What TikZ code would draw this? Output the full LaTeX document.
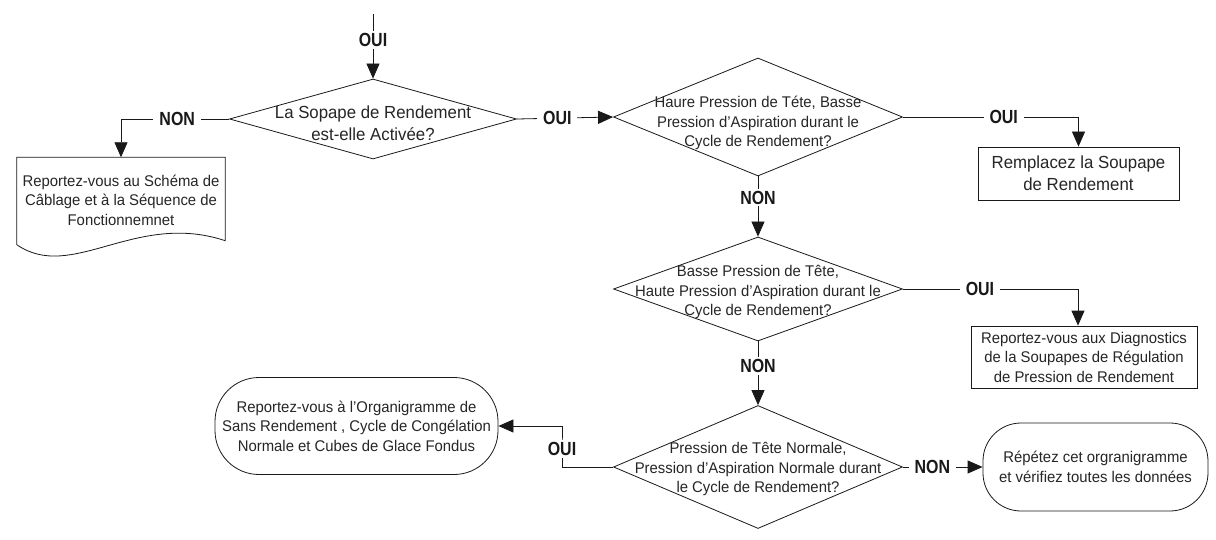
\documentclass[tikz,border=0pt]{standalone}
\usepackage{fontspec}
\setmainfont{Liberation Sans}[FakeStretch=0.96]
\newfontfamily\lblfont{Liberation Sans}[FakeStretch=0.84]
\usetikzlibrary{arrows.meta,shapes.geometric,calc}
\begin{document}
\begin{tikzpicture}[x=1pt,y=-1pt,
  shp/.style={draw=black!90, line width=0.8pt},
  dia/.style={shp, shape=diamond, inner sep=0pt},
  txt/.style={align=center, inner sep=0pt, text=black!85, font=\fontsize{15.5}{19.5}\selectfont},
  bigtxt/.style={font=\fontsize{17.5}{22}\selectfont},
  boxnode/.style={shp, txt, rectangle},
  term/.style={shp, txt, rectangle},
  arr/.style={draw=black!90, line width=0.8pt, -{Triangle[length=15pt,width=13pt]}},
  lbl/.style={fill=white, inner xsep=6pt, inner ysep=2pt, text=black!90, font=\lblfont\bfseries\fontsize{19}{22}\selectfont}
]
\useasboundingbox[fill=white] (0,0) rectangle (1216,540);

% decisions
\node[dia, minimum width=287, minimum height=80] (d1) at (373,119) {};
\node[txt, bigtxt] (d1t) at ($(d1)+(0,4)$) {La Sopape de Rendement\\est-elle Activée?};

\node[dia, minimum width=289, minimum height=118] (d2) at (758,117) {};
\node[txt] (d2t) at ($(d2)+(0,6)$) {Haure Pression de Téte, Basse\\Pression d’Aspiration durant le\\Cycle de Rendement?};

\node[dia, minimum width=289, minimum height=104] (d3) at (758,289) {};
\node[txt] (d3t) at ($(d3)+(0,3)$) {Basse Pression de Tête,\\Haute Pression d’Aspiration durant le\\Cycle de Rendement?};

\node[dia, minimum width=289, minimum height=123] (d4) at (758,467) {};
\node[txt] (d4t) at ($(d4)+(0,2)$) {Pression de Tête Normale,\\Pression d’Aspiration Normale durant\\le Cycle de Rendement?};

% document shape
\node[txt, minimum width=208, minimum height=85] (doc) at (121,200) {Reportez-vous au Schéma de\\Câblage et à la Séquence de\\Fonctionnemnet};
\draw[shp] ($(doc.south west)+(0,2)$) -- (doc.north west) -- (doc.north east) -- ($(doc.south east)+(0,-2)$)
  .. controls +(-90,-30) and +(55,38) .. ($(doc.south west)+(0,2)$) -- cycle;

% process boxes
\node[boxnode, bigtxt, minimum width=201, minimum height=53] (b2) at (1078.5,173.5) {Remplacez la Soupape\\de Rendement};
\node[boxnode, minimum width=226, minimum height=62] (b3) at (1084,357) {Reportez-vous aux Diagnostics\\de la Soupapes de Régulation\\de Pression de Rendement};

% terminals
\node[term, minimum width=283, minimum height=97, rounded corners=44pt] (t1) at (356.5,426) {Reportez-vous à l’Organigramme de\\Sans Rendement , Cycle de Congélation\\Normale et Cubes de Glace Fondus};
\node[term, minimum width=225, minimum height=88, rounded corners=38pt] (t2) at (1095.5,467) {Répétez cet orgranigramme\\et vérifiez toutes les données};

% connectors
\coordinate (s) at (373,14);
\coordinate (k) at (562,449);
\draw[arr] (s) -- node[lbl,pos=0.4] (l1) {OUI} (d1.north);
\draw[arr] (d1.west) -| node[lbl,pos=0.24] (l2) {NON} (doc.north);
\draw[arr] (d1.east) -- node[lbl,pos=0.42] (l3) {OUI} (d2.west);
\draw[arr] (d2.east) -| node[lbl,pos=0.287] (l4) {OUI} (b2.north);
\draw[arr] (d2.south) -- node[lbl,pos=0.35] (l5) {NON} (d3.north);
\draw[arr] (d3.east) -| node[lbl,pos=0.22] (l6) {OUI} ($(b3.north)+(-6,0)$);
\draw[arr] (d3.south) -- node[lbl,pos=0.385] (l7) {NON} (d4.north);
\draw[arr] (d4.east) -- node[lbl,pos=0.37] (l8) {NON} (t2.west);
\draw[arr] (d4.west) -| (k) node[lbl] (l9) {OUI} |- (t1.east);
\end{tikzpicture}
\end{document}
